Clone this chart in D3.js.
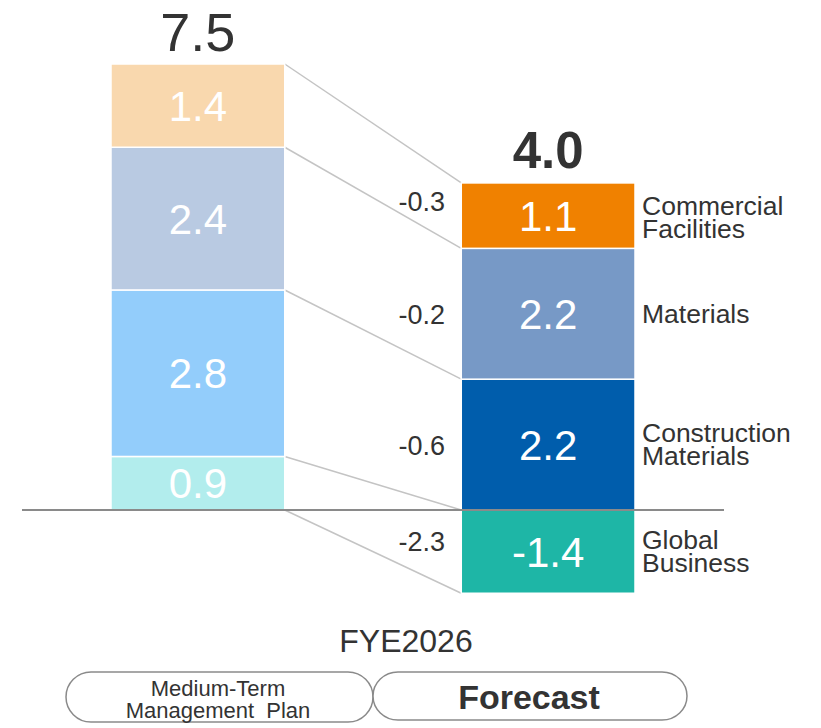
<!DOCTYPE html>
<html>
<head>
<meta charset="utf-8">
<script src="https://cdn.jsdelivr.net/npm/d3@7"></script>
<style>
  html, body { margin: 0; padding: 0; background: #fff; }
  svg { display: block; font-family: "Liberation Sans", Arial, sans-serif; }
</style>
</head>
<body>
<svg id="chart" width="821" height="728"></svg>
<script>
// ---- data ----
const columns = ["Medium-Term Management Plan", "Forecast"];
const segments = ["Global Business", "Construction Materials", "Materials", "Commercial Facilities"];
const planValues = [0.9, 2.8, 2.4, 1.4];
const forecastValues = [-1.4, 2.2, 2.2, 1.1];
const planTotal = "7.5";
const forecastTotal = "4.0";
const changes = ["-2.3", "-0.6", "-0.2", "-0.3"];
const segmentLabels = [["Global", "Business"], ["Construction", "Materials"], ["Materials"], ["Commercial", "Facilities"]];
const planColors = ["#B2EDED", "#93CDFB", "#B9CAE2", "#F9D8AE"];
const forecastColors = ["#1EB6A6", "#005DAC", "#7799C6", "#F08100"];
const periodLabel = "FYE2026";

// ---- layout ----
const svg = d3.select("#chart");
const y = d3.scaleLinear().domain([0, 7.5]).range([510, 64]);
const x = d3.scaleBand().domain(columns).range([111, 635]).paddingInner(0.504).paddingOuter(0);
const bw = x.bandwidth();

function stack(vals) {
  let pos = 0, neg = 0;
  return vals.map(v => {
    if (v >= 0) { const r = { y0: pos, y1: pos + v, v }; pos += v; return r; }
    const r = { y0: neg + v, y1: neg, v }; neg += v; return r;
  });
}
const planStack = stack(planValues);
const foreStack = stack(forecastValues);

// connector lines (drawn first)
const xL = x(columns[0]) + bw, xR = x(columns[1]);
const connectors = planStack.map((p, i) => [p.y1, foreStack[i].y1]);
connectors.push([planStack[0].y0, foreStack[0].y0]);
svg.append("g").selectAll("line").data(connectors).join("line")
  .attr("x1", xL).attr("x2", xR)
  .attr("y1", d => y(d[0])).attr("y2", d => y(d[1]))
  .attr("stroke", "#C4C4C4").attr("stroke-width", 1.5);

// bars
function drawBar(stackData, colors, col) {
  const g = svg.append("g");
  g.selectAll("rect").data(stackData).join("rect")
    .attr("x", x(col)).attr("width", bw)
    .attr("y", d => y(d.y1)).attr("height", d => y(d.y0) - y(d.y1))
    .attr("fill", (d, i) => colors[i])
    .attr("stroke", "#fff").attr("stroke-width", 1.5);
  g.selectAll("text").data(stackData).join("text")
    .attr("x", x(col) + bw / 2)
    .attr("y", d => (y(d.y0) + y(d.y1)) / 2 + 15)
    .attr("text-anchor", "middle")
    .attr("fill", "#fff").attr("font-size", 42)
    .text(d => d.v.toFixed(1));
}
drawBar(planStack, planColors, columns[0]);
drawBar(foreStack, forecastColors, columns[1]);

// baseline
svg.append("line").attr("x1", 22).attr("x2", 724)
  .attr("y1", y(0)).attr("y2", y(0))
  .attr("stroke", "#8A8A8A").attr("stroke-width", 2);

// totals
svg.append("text").attr("x", x(columns[0]) + bw / 2).attr("y", 51)
  .attr("text-anchor", "middle").attr("font-size", 54).attr("fill", "#333")
  .text(planTotal);
svg.append("text").attr("x", x(columns[1]) + bw / 2).attr("y", 168)
  .attr("text-anchor", "middle").attr("font-size", 51).attr("font-weight", "bold").attr("fill", "#333")
  .text(forecastTotal);

// change labels
const changeOffsets = [-11, 0, 0, -15];
svg.append("g").selectAll("text").data(changes).join("text")
  .attr("x", 445)
  .attr("y", (d, i) => (y(foreStack[i].y0) + y(foreStack[i].y1)) / 2 + changeOffsets[i] + 10)
  .attr("text-anchor", "end").attr("font-size", 27).attr("fill", "#333")
  .text(d => d);

// segment labels
const lg = svg.append("g");
segmentLabels.forEach((lines, i) => {
  const mid = (y(foreStack[i].y0) + y(foreStack[i].y1)) / 2;
  const lh = 23;
  const t = lg.append("text").attr("x", 642).attr("font-size", 26.5).attr("fill", "#333");
  lines.forEach((ln, j) => {
    t.append("tspan").attr("x", 642)
      .attr("y", mid + 9 + (j - (lines.length - 1) / 2) * lh + (i === 3 ? 2 : 0))
      .text(ln);
  });
});

// period label
svg.append("text").attr("x", 406).attr("y", 652)
  .attr("text-anchor", "middle").attr("font-size", 32).attr("fill", "#333")
  .text(periodLabel);

// pills
const pills = [
  { x0: 66, x1: 373, y0: 672, y1: 722 },
  { x0: 373, x1: 687, y0: 672, y1: 720 }
];
svg.append("g").selectAll("rect").data(pills).join("rect")
  .attr("x", d => d.x0).attr("y", d => d.y0)
  .attr("width", d => d.x1 - d.x0).attr("height", d => d.y1 - d.y0)
  .attr("rx", 25).attr("ry", 25)
  .attr("fill", "#fff").attr("stroke", "#8A8A8A").attr("stroke-width", 1.5);

const lt = svg.append("text").attr("text-anchor", "middle").attr("font-size", 22).attr("fill", "#333");
lt.append("tspan").attr("x", 218).attr("y", 696).text("Medium-Term");
lt.append("tspan").attr("x", 218).attr("y", 718).text("Management  Plan").attr("xml:space", "preserve");
svg.append("text").attr("x", 529).attr("y", 709).attr("text-anchor", "middle")
  .attr("font-size", 34).attr("font-weight", "bold").attr("fill", "#333")
  .text("Forecast");
</script>
</body>
</html>
